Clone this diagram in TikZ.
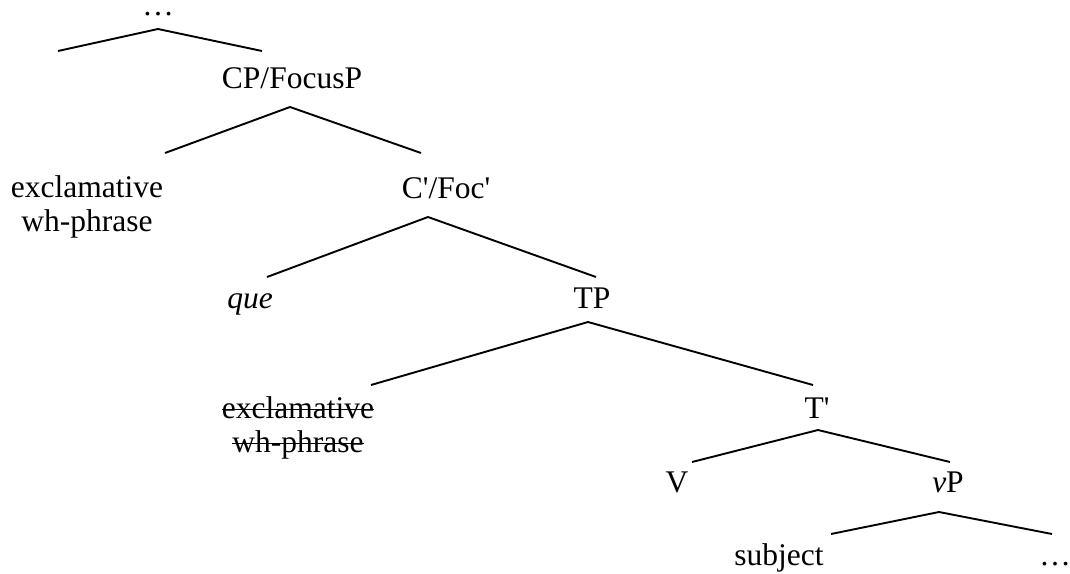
\documentclass[tikz,border=0pt]{standalone}
\usepackage{fontspec}
\setmainfont{Liberation Serif}[Ligatures=TeXOff]
\newcommand\strk[1]{\setbox0\hbox{#1}\rlap{\rule[0.25em]{\wd0}{0.05em}}\box0}
\begin{document}
\begin{tikzpicture}[x=1pt,y=-1pt,
  lbl/.style={anchor=base,inner sep=0pt,font=\fontsize{31.5}{34}\selectfont},
  br/.style={line width=1.9pt}]
\useasboundingbox (0,0) rectangle (1070,573);
% labels
\node[lbl] (top) at (158,15) {…};
\node[lbl] (cp) at (292,88) {CP/FocusP};
\node[lbl] (exa) at (87,197) {exclamative};
\node[lbl] (exb) at (87,231) {wh-phrase};
\node[lbl] (cb) at (446,198) {C'/Foc'};
\node[lbl] (que) at (250,308) {\itshape que};
\node[lbl] (tp) at (592,308) {TP};
\node[lbl] (sxa) at (298,418) {\strk{exclamative}};
\node[lbl] (sxb) at (298,452) {\strk{wh-phrase}};
\node[lbl] (tb) at (817,418) {T'};
\node[lbl] (v) at (677,492) {V};
\node[lbl] (vp) at (948,492) {\itshape v\upshape P};
\node[lbl] (subj) at (779,565) {subject};
\node[lbl] (dots) at (1055,565) {…};
% branch points
\coordinate (a0) at (158,29); \coordinate (l0) at (58,51); \coordinate (r0) at (262,51);
\coordinate (a1) at (290,107); \coordinate (l1) at (165,153); \coordinate (r1) at (421,153);
\coordinate (a2) at (428,217); \coordinate (l2) at (267,277); \coordinate (r2) at (596,277);
\coordinate (a3) at (588,322); \coordinate (l3) at (371,385); \coordinate (r3) at (813,385);
\coordinate (a4) at (818,430); \coordinate (l4) at (692,462); \coordinate (r4) at (950,462);
\coordinate (a5) at (939,512); \coordinate (l5) at (831,534); \coordinate (r5) at (1052,534);
\foreach \i in {0,...,5}{
  \draw[br] (l\i) -- (a\i) -- (r\i);
}
\end{tikzpicture}
\end{document}
